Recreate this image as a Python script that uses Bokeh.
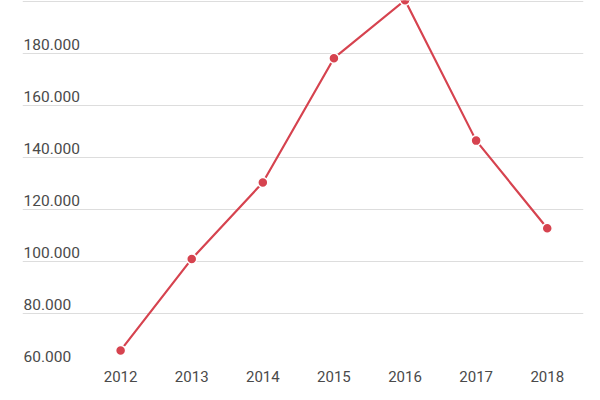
from bokeh.plotting import figure
from bokeh.models import Range1d, FixedTicker, ColumnDataSource, LabelSet
from bokeh.core.properties import value
from bokeh.embed import file_html
from bokeh.resources import INLINE

years = [2012, 2013, 2014, 2015, 2016, 2017, 2018]
values = [65800, 101000, 130400, 178200, 200500, 146500, 112800]
y_ticks = [60000, 80000, 100000, 120000, 140000, 160000, 180000]
y_tick_labels = ["60.000", "80.000", "100.000", "120.000", "140.000", "160.000", "180.000"]

LINE = "#d6434f"
TEXT = "#4a4a4a"
GRID = "#dddddd"

x0, x1 = 2010.62, 2018.51
p = figure(width=584, height=384, output_backend="svg", toolbar_location=None,
           x_range=Range1d(x0, x1), y_range=Range1d(60000, 200400),
           min_border_left=22, min_border_right=1, min_border_top=0, min_border_bottom=18)
p.outline_line_color = None
p.background_fill_color = "white"
p.border_fill_color = "white"

p.yaxis.visible = False
p.xgrid.grid_line_color = None
p.ygrid.ticker = FixedTicker(ticks=y_ticks + [200000])
p.ygrid.grid_line_color = GRID
p.ygrid.grid_line_width = 1

xa = p.xaxis[0]
xa.ticker = FixedTicker(ticks=years)
xa.axis_line_color = None
xa.major_tick_line_color = None
xa.minor_tick_line_color = None
xa.major_tick_in = 0
xa.major_tick_out = 0
xa.major_label_standoff = 5
xa.major_label_text_font = "Roboto"
xa.major_label_text_font_size = "15px"
xa.major_label_text_color = TEXT

lab = ColumnDataSource(dict(x=[x0] * len(y_ticks), y=y_ticks, t=y_tick_labels))
p.add_layout(LabelSet(x="x", y="y", text="t", source=lab, text_font=value("Roboto"),
                      text_font_size=value("15.5px"), text_color=TEXT, text_align="left",
                      text_baseline="alphabetic", x_offset=1, y_offset=4))

src = ColumnDataSource(dict(x=years, y=values))
p.line(x="x", y="y", source=src, line_color=LINE, line_width=2.2)
p.scatter(x="x", y="y", source=src, size=10, fill_color=LINE, line_color="white", line_width=1.5)

open("out.html", "w").write(file_html(p, INLINE))
